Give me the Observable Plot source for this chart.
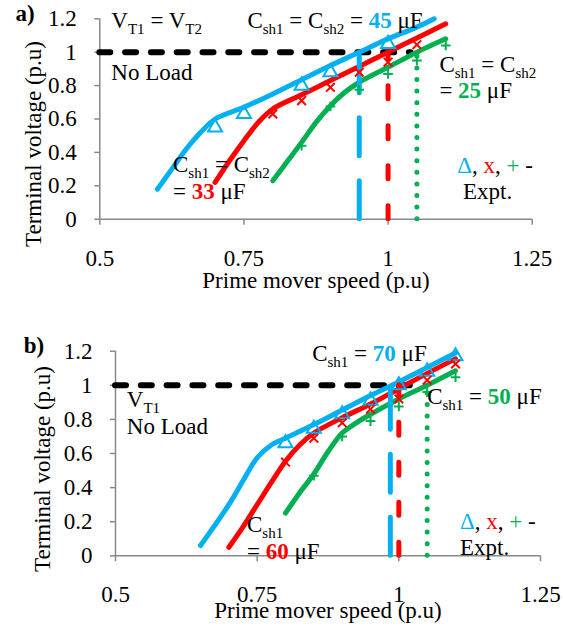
<!DOCTYPE html>
<html><head><meta charset="utf-8">
<script src="https://cdn.jsdelivr.net/npm/d3@7"></script>
<script src="https://cdn.jsdelivr.net/npm/@observablehq/plot@0.6"></script>
<style>
body{margin:0;background:#fff;} #wrap{width:563px;} svg{display:block;}
svg text, svg tspan { font-family: 'Liberation Serif', 'Times New Roman', serif !important; }
</style>
</head><body><div id="wrap"></div>
<script>
// ---------- shared ticks / labels ----------
const xTicks = [0.5, 0.75, 1, 1.25];
const yTicks = [0, 0.2, 0.4, 0.6, 0.8, 1, 1.2];
const xTitle = "Prime mover speed (p.u)";
const yTitle = "Terminal voltage (p.u)";

// ---------- panel a) ----------
const aBlueX = [0.6, 0.625, 0.65, 0.675, 0.7, 0.75, 0.8, 0.85, 0.9, 0.95, 1.0, 1.05, 1.08];
const aBlueY = [0.18, 0.30, 0.42, 0.52, 0.60, 0.67, 0.75, 0.835, 0.92, 1.0, 1.08, 1.15, 1.2];
const aRedX = [0.7, 0.725, 0.75, 0.775, 0.8, 0.85, 0.9, 0.95, 1.0, 1.05, 1.1];
const aRedY = [0.22, 0.35, 0.47, 0.58, 0.66, 0.745, 0.83, 0.915, 1.0, 1.085, 1.17];
const aGreenX = [0.8, 0.825, 0.85, 0.875, 0.9, 0.925, 0.95, 1.0, 1.05, 1.1];
const aGreenY = [0.23, 0.345, 0.46, 0.58, 0.68, 0.76, 0.82, 0.91, 1.0, 1.08];
const aTriX = [0.7, 0.75, 0.85, 0.9, 1.0];
const aTriY = [0.55, 0.63, 0.80, 0.88, 1.05];
const aCrossX = [0.8, 0.85, 0.9, 0.95, 1.0, 1.05];
const aCrossY = [0.63, 0.71, 0.79, 0.88, 0.94, 1.045];
const aPlusX = [0.85, 0.9, 0.95, 1.0, 1.05, 1.1];
const aPlusY = [0.44, 0.675, 0.775, 0.87, 0.95, 1.04];
const aVert = [0.95, 1.0, 1.05];      // blue, red, green rated speeds
const aNoLoadEnd = 1.04;
const aNotes = [
  "V_{T1} = V_{T2}",
  "C_{sh1} = C_{sh2} = [45|#00B0F0|b] μF",
  "No Load",
  "C_{sh1} = C_{sh2}",
  "= [25|#00B050|b] μF",
  "C_{sh1} = C_{sh2}",
  "= [33|#FF0000|b] μF",
  "[Δ|#00B0F0], [x|#FF0000], [+|#00B050] -",
  "Expt."
];
const aNoteAt = [[0.52,1.19],[0.756,1.187],[0.52,0.875],[1.089,0.926],[1.089,0.77],[0.627,0.327],[0.627,0.168],[1.12,0.32],[1.13,0.168]];

// ---------- panel b) ----------
const bBlueX = [0.65, 0.7, 0.725, 0.75, 0.775, 0.8, 0.85, 0.9, 0.95, 1.0, 1.05, 1.1];
const bBlueY = [0.06, 0.30, 0.44, 0.575, 0.65, 0.69, 0.77, 0.855, 0.94, 1.02, 1.105, 1.19];
const bRedX = [0.7, 0.725, 0.75, 0.775, 0.8, 0.825, 0.85, 0.9, 0.95, 1.0, 1.05, 1.1];
const bRedY = [0.05, 0.17, 0.30, 0.43, 0.555, 0.65, 0.72, 0.81, 0.89, 0.98, 1.07, 1.155];
const bGreenX = [0.8, 0.825, 0.85, 0.875, 0.9, 0.925, 0.95, 1.0, 1.05, 1.1];
const bGreenY = [0.25, 0.37, 0.48, 0.61, 0.72, 0.78, 0.83, 0.92, 1.0, 1.085];
const bTriX = [0.8, 0.85, 0.9, 0.95, 1.0, 1.05, 1.1];
const bTriY = [0.66, 0.745, 0.83, 0.91, 1.0, 1.08, 1.17];
const bCrossX = [0.8, 0.85, 0.9, 0.95, 1.0, 1.05, 1.1];
const bCrossY = [0.55, 0.69, 0.78, 0.86, 0.92, 1.03, 1.125];
const bPlusX = [0.85, 0.9, 0.95, 1.0, 1.05, 1.1];
const bPlusY = [0.47, 0.70, 0.79, 0.876, 0.96, 1.047];
const bVert = [0.985, 1.0, 1.05];
const bNoLoadEnd = 1.04;
const bNotes = [
  "C_{sh1} = [70|#00B0F0|b] μF",
  "V_{T1}",
  "No Load",
  "C_{sh1} = [50|#00B050|b] μF",
  "C_{sh1}",
  "= [60|#FF0000|b] μF",
  "[Δ|#00B0F0], [x|#FF0000], [+|#00B050] -",
  "Expt."
];
const bNoteAt = [[0.847,1.185],[0.52,0.917],[0.52,0.76],[1.05,0.935],[0.732,0.183],[0.732,0.027],[1.108,0.2],[1.108,0.046]];

// ---------- styling ----------
const BLUE = "#00B0F0", RED = "#FF0000", GREEN = "#00B050", GRAY = "#898989";
const FONT = "Liberation Serif, Times New Roman, serif";
const zip = (xs, ys) => xs.map((x, i) => ({x, y: ys[i]}));

function rich(el) {
  const s = el.textContent;
  if (!/[_\[]/.test(s)) return;
  el.textContent = "";
  const re = /_\{([^}]*)\}|\[([^|\]]*)\|([^|\]]*)(?:\|(b))?\]|([^_\[]+)/g;
  let m, shift = 0;
  while ((m = re.exec(s))) {
    const t = document.createElementNS("http://www.w3.org/2000/svg", "tspan");
    if (m[1] !== undefined) {
      t.textContent = m[1];
      t.setAttribute("font-size", "15");
      t.setAttribute("dy", String(6 - shift));
      shift = 6;
    } else {
      if (shift) { t.setAttribute("dy", String(-shift)); shift = 0; }
      if (m[2] !== undefined) {
        t.textContent = m[2];
        t.setAttribute("fill", m[3]);
        if (m[4]) t.setAttribute("font-weight", "bold");
      } else t.textContent = m[5];
    }
    el.appendChild(t);
  }
}

function chart(c) {
  const curve = (xs, ys, color) => Plot.line(zip(xs, ys), {x: "x", y: "y", stroke: color, strokeWidth: 5, curve: "catmull-rom", strokeLinecap: "round", strokeLinejoin: "round"});
  const svg = Plot.plot({
    width: 563, height: c.height,
    marginTop: c.mt, marginBottom: c.mb, marginLeft: c.ml, marginRight: c.mr,
    style: {fontFamily: FONT, fontSize: "23px", background: "white", color: "black"},
    x: {domain: [0.5, 1.25]},
    y: {domain: [0, 1.2]},
    marks: [
      Plot.ruleX([0.5], {y1: 0, y2: 1.2, stroke: GRAY, strokeWidth: 1.5}),
      Plot.ruleY([0], {x1: 0.5, x2: 1.25, stroke: GRAY, strokeWidth: 1.5}),
      Plot.axisX({ticks: xTicks, tickFormat: d => String(d), tickSize: 6, tickPadding: 24, stroke: GRAY, strokeWidth: 1.5, fill: "black", fontSize: 23, label: null}),
      Plot.axisY({ticks: yTicks, tickFormat: d => String(d), tickSize: 5, tickPadding: 18, stroke: GRAY, strokeWidth: 1.5, fill: "black", fontSize: 23, label: null}),
      Plot.text([xTitle], {text: d => d, frameAnchor: "bottom", lineAnchor: "middle", textAnchor: "middle", dy: c.xtDy, fontSize: 23, fill: "black"}),
      Plot.text([yTitle], {text: d => d, frameAnchor: "left", rotate: -90, lineAnchor: "middle", textAnchor: "middle", dx: c.ytDx, dy: c.ytDy, fontSize: 23, fill: "black"}),
      Plot.text([c.panel], {text: d => d, frameAnchor: "top-left", textAnchor: "start", lineAnchor: "middle", dx: c.pDx, dy: c.pDy, fontWeight: "bold", fontSize: 23, fill: "black"}),
      Plot.ruleY([1], {x1: 0.5, x2: c.noLoadEnd, stroke: "black", strokeWidth: 6, strokeDasharray: "11,14.8", strokeLinecap: "round"}),
      curve(c.blueX, c.blueY, BLUE),
      curve(c.redX, c.redY, RED),
      curve(c.greenX, c.greenY, GREEN),
      Plot.ruleX([c.vert[0]], {y1: 0, y2: 1, stroke: BLUE, strokeWidth: 5, strokeDasharray: "38,25", strokeLinecap: "round"}),
      Plot.ruleX([c.vert[1]], {y1: 0, y2: 1, stroke: RED, strokeWidth: 5, strokeDasharray: "13,27", strokeLinecap: "round"}),
      Plot.ruleX([c.vert[2]], {y1: 0, y2: 1, stroke: GREEN, strokeWidth: 5, strokeDasharray: "0,11.6", strokeLinecap: "round"}),
      Plot.dot(zip(c.triX, c.triY), {x: "x", y: "y", symbol: "triangle", r: 5.2, fill: "none", stroke: BLUE, strokeWidth: 2}),
      Plot.dot(zip(c.crossX, c.crossY), {x: "x", y: "y", symbol: "times", r: 4, stroke: RED, strokeWidth: 2}),
      Plot.dot(zip(c.plusX, c.plusY), {x: "x", y: "y", symbol: "plus", r: 3.2, stroke: GREEN, strokeWidth: 2}),
      Plot.text(c.notes.map((t, i) => ({t, x: c.noteAt[i][0], y: c.noteAt[i][1]})), {x: "x", y: "y", text: "t", textAnchor: "start", lineAnchor: "middle", fontSize: 23, fill: "black"})
    ]
  });
  svg.querySelectorAll("text").forEach(rich);
  return svg;
}

const wrap = document.getElementById("wrap");
wrap.appendChild(chart({
  height: 315, mt: 18.3, mb: 96.3, ml: 99.3, mr: 31.3,
  xtDy: 61, ytDx: -66, ytDy: 25, panel: "a)", pDx: -84.3, pDy: -5.3,
  noLoadEnd: aNoLoadEnd, vert: aVert,
  blueX: aBlueX, blueY: aBlueY, redX: aRedX, redY: aRedY, greenX: aGreenX, greenY: aGreenY,
  triX: aTriX, triY: aTriY, crossX: aCrossX, crossY: aCrossY, plusX: aPlusX, plusY: aPlusY,
  notes: aNotes, noteAt: aNoteAt
}));
wrap.appendChild(chart({
  height: 311, mt: 35.7, mb: 70.7, ml: 115, mr: 23,
  xtDy: 55, ytDx: -73.3, ytDy: 15.5, panel: "b)", pDx: -91.7, pDy: -5.7,
  noLoadEnd: bNoLoadEnd, vert: bVert,
  blueX: bBlueX, blueY: bBlueY, redX: bRedX, redY: bRedY, greenX: bGreenX, greenY: bGreenY,
  triX: bTriX, triY: bTriY, crossX: bCrossX, crossY: bCrossY, plusX: bPlusX, plusY: bPlusY,
  notes: bNotes, noteAt: bNoteAt
}));
</script></body></html>
